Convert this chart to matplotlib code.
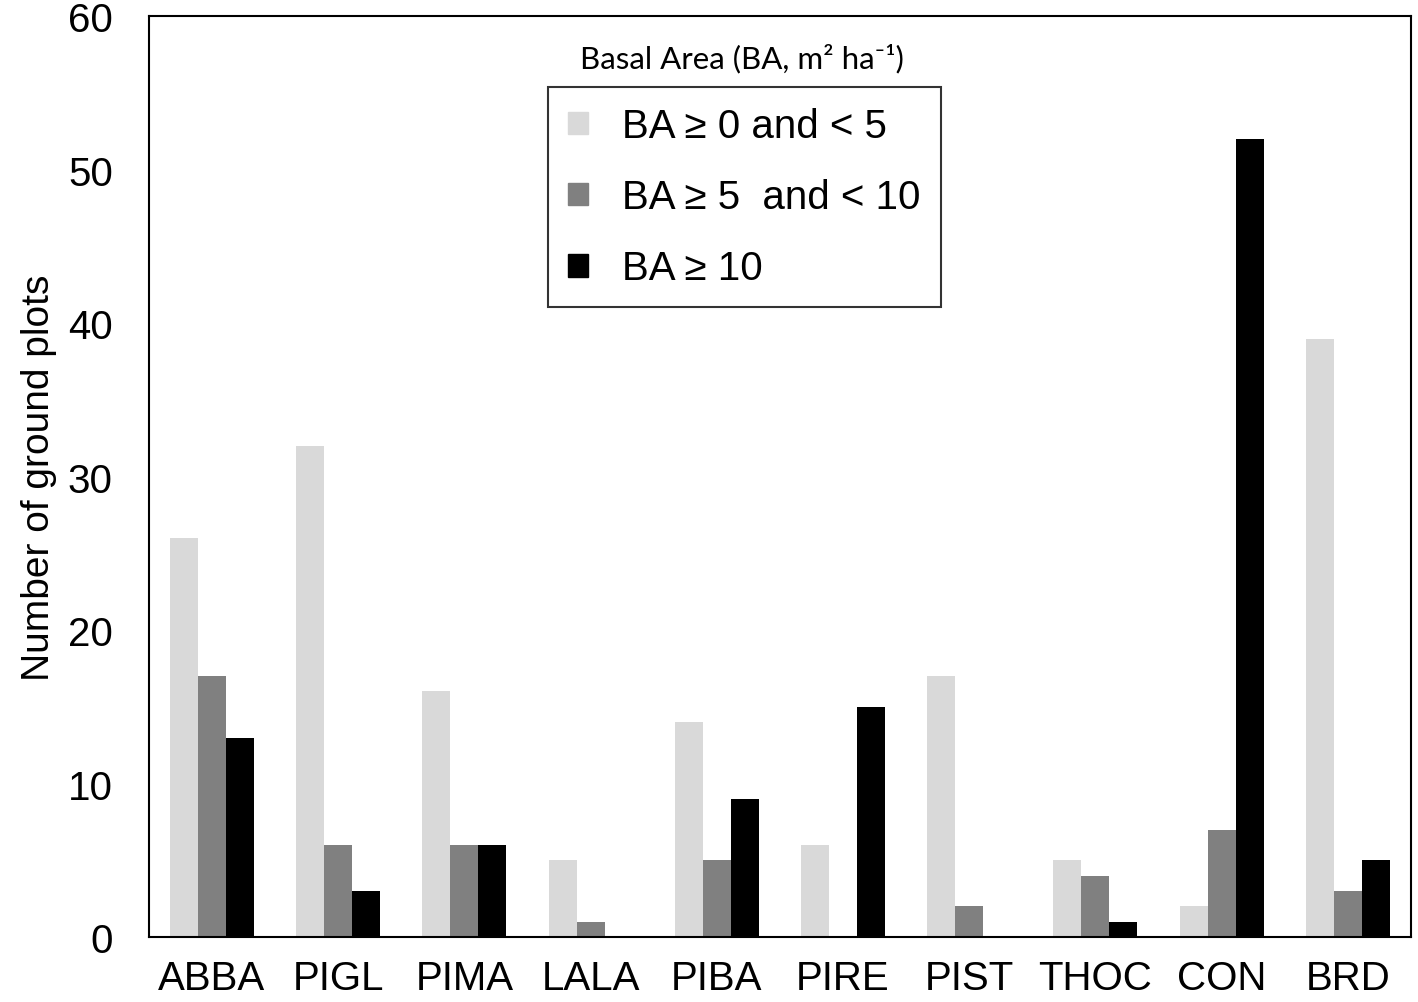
import matplotlib
matplotlib.use('Agg')
import matplotlib.pyplot as plt
import numpy as np
from matplotlib.patches import Patch

# данные
species = ['ABBA', 'PIGL', 'PIMA', 'LALA', 'PIBA', 'PIRE', 'PIST', 'THOC', 'CON', 'BRD']
ba_low = [26, 32, 16, 5, 14, 6, 17, 5, 2, 39]
ba_mid = [17, 6, 6, 1, 5, 0, 2, 4, 7, 3]
ba_high = [13, 3, 6, 0, 9, 15, 0, 1, 52, 5]
labels = ['BA \u2265 0 and < 5', 'BA \u2265 5  and < 10', 'BA \u2265 10']
colors = ['#d9d9d9', '#808080', '#000000']

plt.rcParams['font.family'] = ['Liberation Sans', 'DejaVu Sans']

fig = plt.figure(figsize=(14.18, 10.03), dpi=100)
ax = fig.add_axes([0.105, 0.0648, 0.89, 0.918])

x = np.arange(len(species))
w = 0.222
for i, (vals, c) in enumerate(zip([ba_low, ba_mid, ba_high], colors)):
    ax.bar(x + (i - 1) * w, vals, width=w, color=c, label=labels[i])

ax.set_xlim(-0.5, 9.5)
ax.set_ylim(0, 60)
ax.set_yticks(range(0, 61, 10))
ax.set_xticks(x)
ax.set_xticklabels(species)
ax.tick_params(axis='both', length=0, labelsize=29)
ax.tick_params(axis='x', pad=16)
ax.tick_params(axis='y', pad=26)
for s in ax.spines.values():
    s.set_linewidth(1.5)

ax.set_ylabel('Number of ground plots', fontsize=28, labelpad=8)

# легенда
handles = [Patch(color=c) for c in colors]
leg = ax.legend(handles, labels, loc='upper left', bbox_to_anchor=(0.316, 0.923),
                fontsize=29, frameon=True, fancybox=False, edgecolor='black',
                handlelength=0.5, handleheight=0.5, handletextpad=0.85,
                labelspacing=0.82, borderpad=0.5, borderaxespad=0)
leg.get_frame().set_linewidth(1.5)

ax.text(0.47, 0.955, 'Basal Area (BA, m\u00b2 ha\u207b\u00b9)', transform=ax.transAxes,
        ha='center', va='center', fontsize=22.5, family=['Lato', 'DejaVu Sans'])

fig.savefig('out.png', dpi=100)
